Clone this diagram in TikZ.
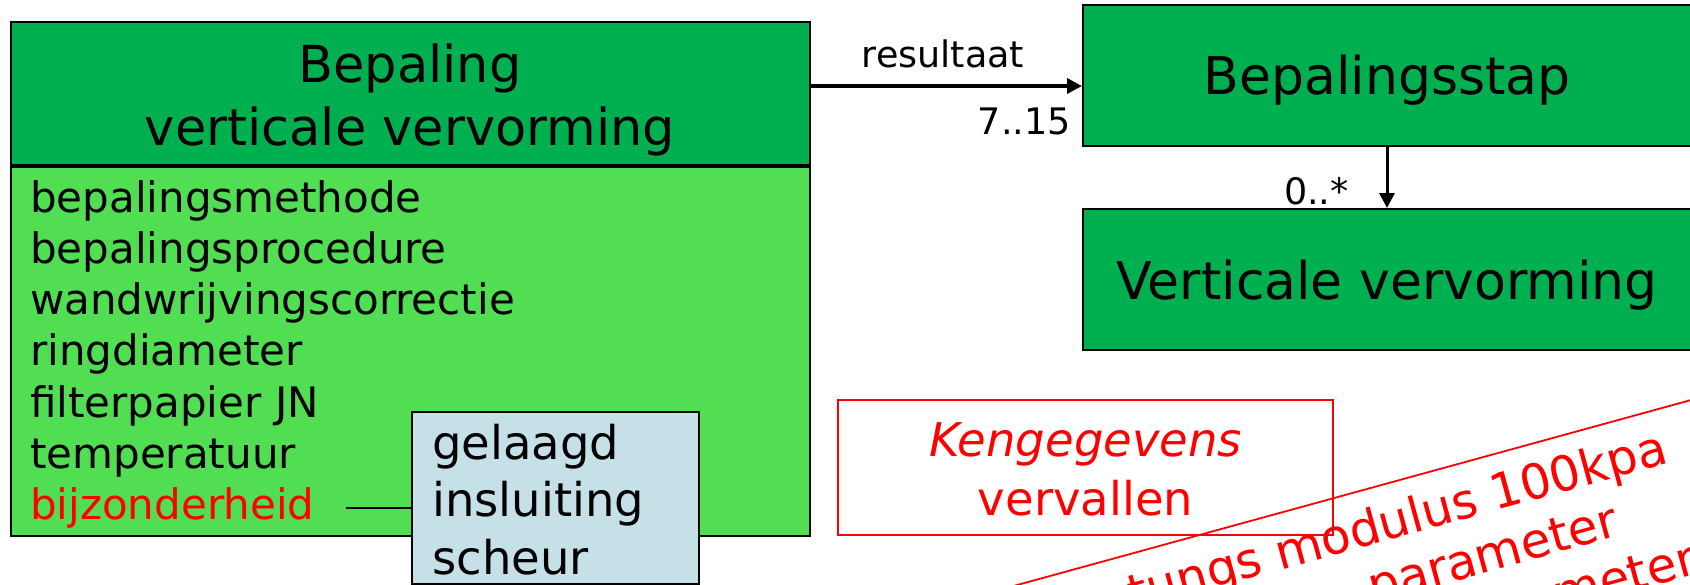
\documentclass[tikz,border=0pt]{standalone}
\usepackage{fontspec}
\setmainfont{DejaVu Sans}
\usetikzlibrary{arrows.meta}
\definecolor{kopgroen}{RGB}{0,176,80}
\definecolor{lijstgroen}{RGB}{82,222,82}
\definecolor{keuzeblauw}{RGB}{197,224,230}
\newcommand{\fsz}[2]{\fontsize{#1}{#2}\selectfont}

\begin{document}
\begin{tikzpicture}[x=1pt, y=-1pt]
  \tikzstyle{klasse}=[draw=black, line width=2pt, fill=kopgroen, inner sep=0pt]
  \tikzstyle{attr}=[anchor=base west, inner sep=0pt, font=\fsz{42}{50}]
  \tikzstyle{keuze}=[anchor=base west, inner sep=0pt, font=\fsz{46.5}{56}]
  \tikzstyle{mult}=[inner sep=0pt, font=\fsz{36.5}{44}]
  \tikzstyle{pijl}=[line width=3.5pt, -{Triangle[length=15pt,width=15pt]}]
  \tikzstyle{rood}=[draw=red, line width=1.8pt, inner sep=0pt]
  \tikzstyle{schuintekst}=[anchor=base east, inner sep=0pt, text=red, font=\fsz{48.5}{58}]
  \path[use as bounding box, clip] (0,0) rectangle (1690,584);

  % klasse links
  \node[klasse, minimum width=799pt, minimum height=143.5pt] (bepaling) at (410.5,93.25) {};
  \node[klasse, fill=lijstgroen, anchor=north, minimum width=799pt, minimum height=368.5pt] (lijst) at (bepaling.south) {};
  \node[anchor=base, inner sep=0pt, font=\fsz{51}{60}] (kop1) at (410,82) {Bepaling};
  \node[anchor=base, inner sep=0pt, font=\fsz{51}{60}] (kop2) at (410,145) {verticale vervorming};
  \foreach \naam [count=\i] in {bepalingsmethode, bepalingsprocedure, wandwrijvingscorrectie,
      ringdiameter, filterpapier JN, temperatuur}
    \node[attr] (attr\i) at (30, {212+51.25*(\i-1)}) {\naam};
  \node[attr, text=red] (bijz) at (30,519.5) {bijzonderheid};

  % keuzelijst
  \node[klasse, fill=keuzeblauw, anchor=north west, minimum width=287pt, minimum height=172pt] (keuzes) at (411,411) {};
  \foreach \k [count=\i] in {gelaagd, insluiting, scheur}
    \node[keuze] (keuze\i) at (432, {459+57.5*(\i-1)}) {\k};
  \coordinate (bijzlijn) at (346,508);
  \draw[line width=1.5pt] (bijzlijn) -- (bijzlijn -| keuzes.west);

  % klassen rechts
  \node[klasse, minimum width=608pt, minimum height=141pt, text depth=0pt, font=\fsz{52}{60}] (stap) at (1387,75.2) {Bepalingsstap};
  \node[klasse, minimum width=608pt, minimum height=141pt, text depth=0pt, font=\fsz{52}{60}] (vervorming) at (1387,279.5) {Verticale vervorming};

  \draw[pijl] (bepaling.east |- 0,86) -- (stap.west |- 0,86);
  \node[mult, anchor=base] (resultaat) at (943,67.7) {resultaat};
  \node[mult, anchor=base east] (mult1) at (1071,134) {7..15};
  \draw[pijl, line width=3pt] (stap.south) -- (vervorming.north);
  \node[mult, anchor=base east] (mult2) at (1349,204) {0..*};

  % opmerkingen
  \node[rood, minimum width=495pt, minimum height=135pt] (vervallen) at (1085.5,467.5) {};
  \node[anchor=base, inner sep=0pt, text=red, font=\fsz{46.5}{56}\itshape] (ken1) at (1085.5,456) {Kengegevens};
  \node[anchor=base, inner sep=0pt, text=red, font=\fsz{46.5}{56}] (ken2) at (1085.5,515) {vervallen};

  \begin{scope}[shift={(1020,583.3)}, rotate=15.35, transform shape]
    \node[rood, anchor=north west, minimum width=900pt, minimum height=260pt] (schuin) at (-200,0) {};
    \node[schuintekst] (regel1) at (659,56) {tungs modulus 100kpa};
    \node[schuintekst] (regel2) at (592,113) {parameter};
    \node[schuintekst] (regel3) at (658,170) {parameter};
  \end{scope}
\end{tikzpicture}
\end{document}
